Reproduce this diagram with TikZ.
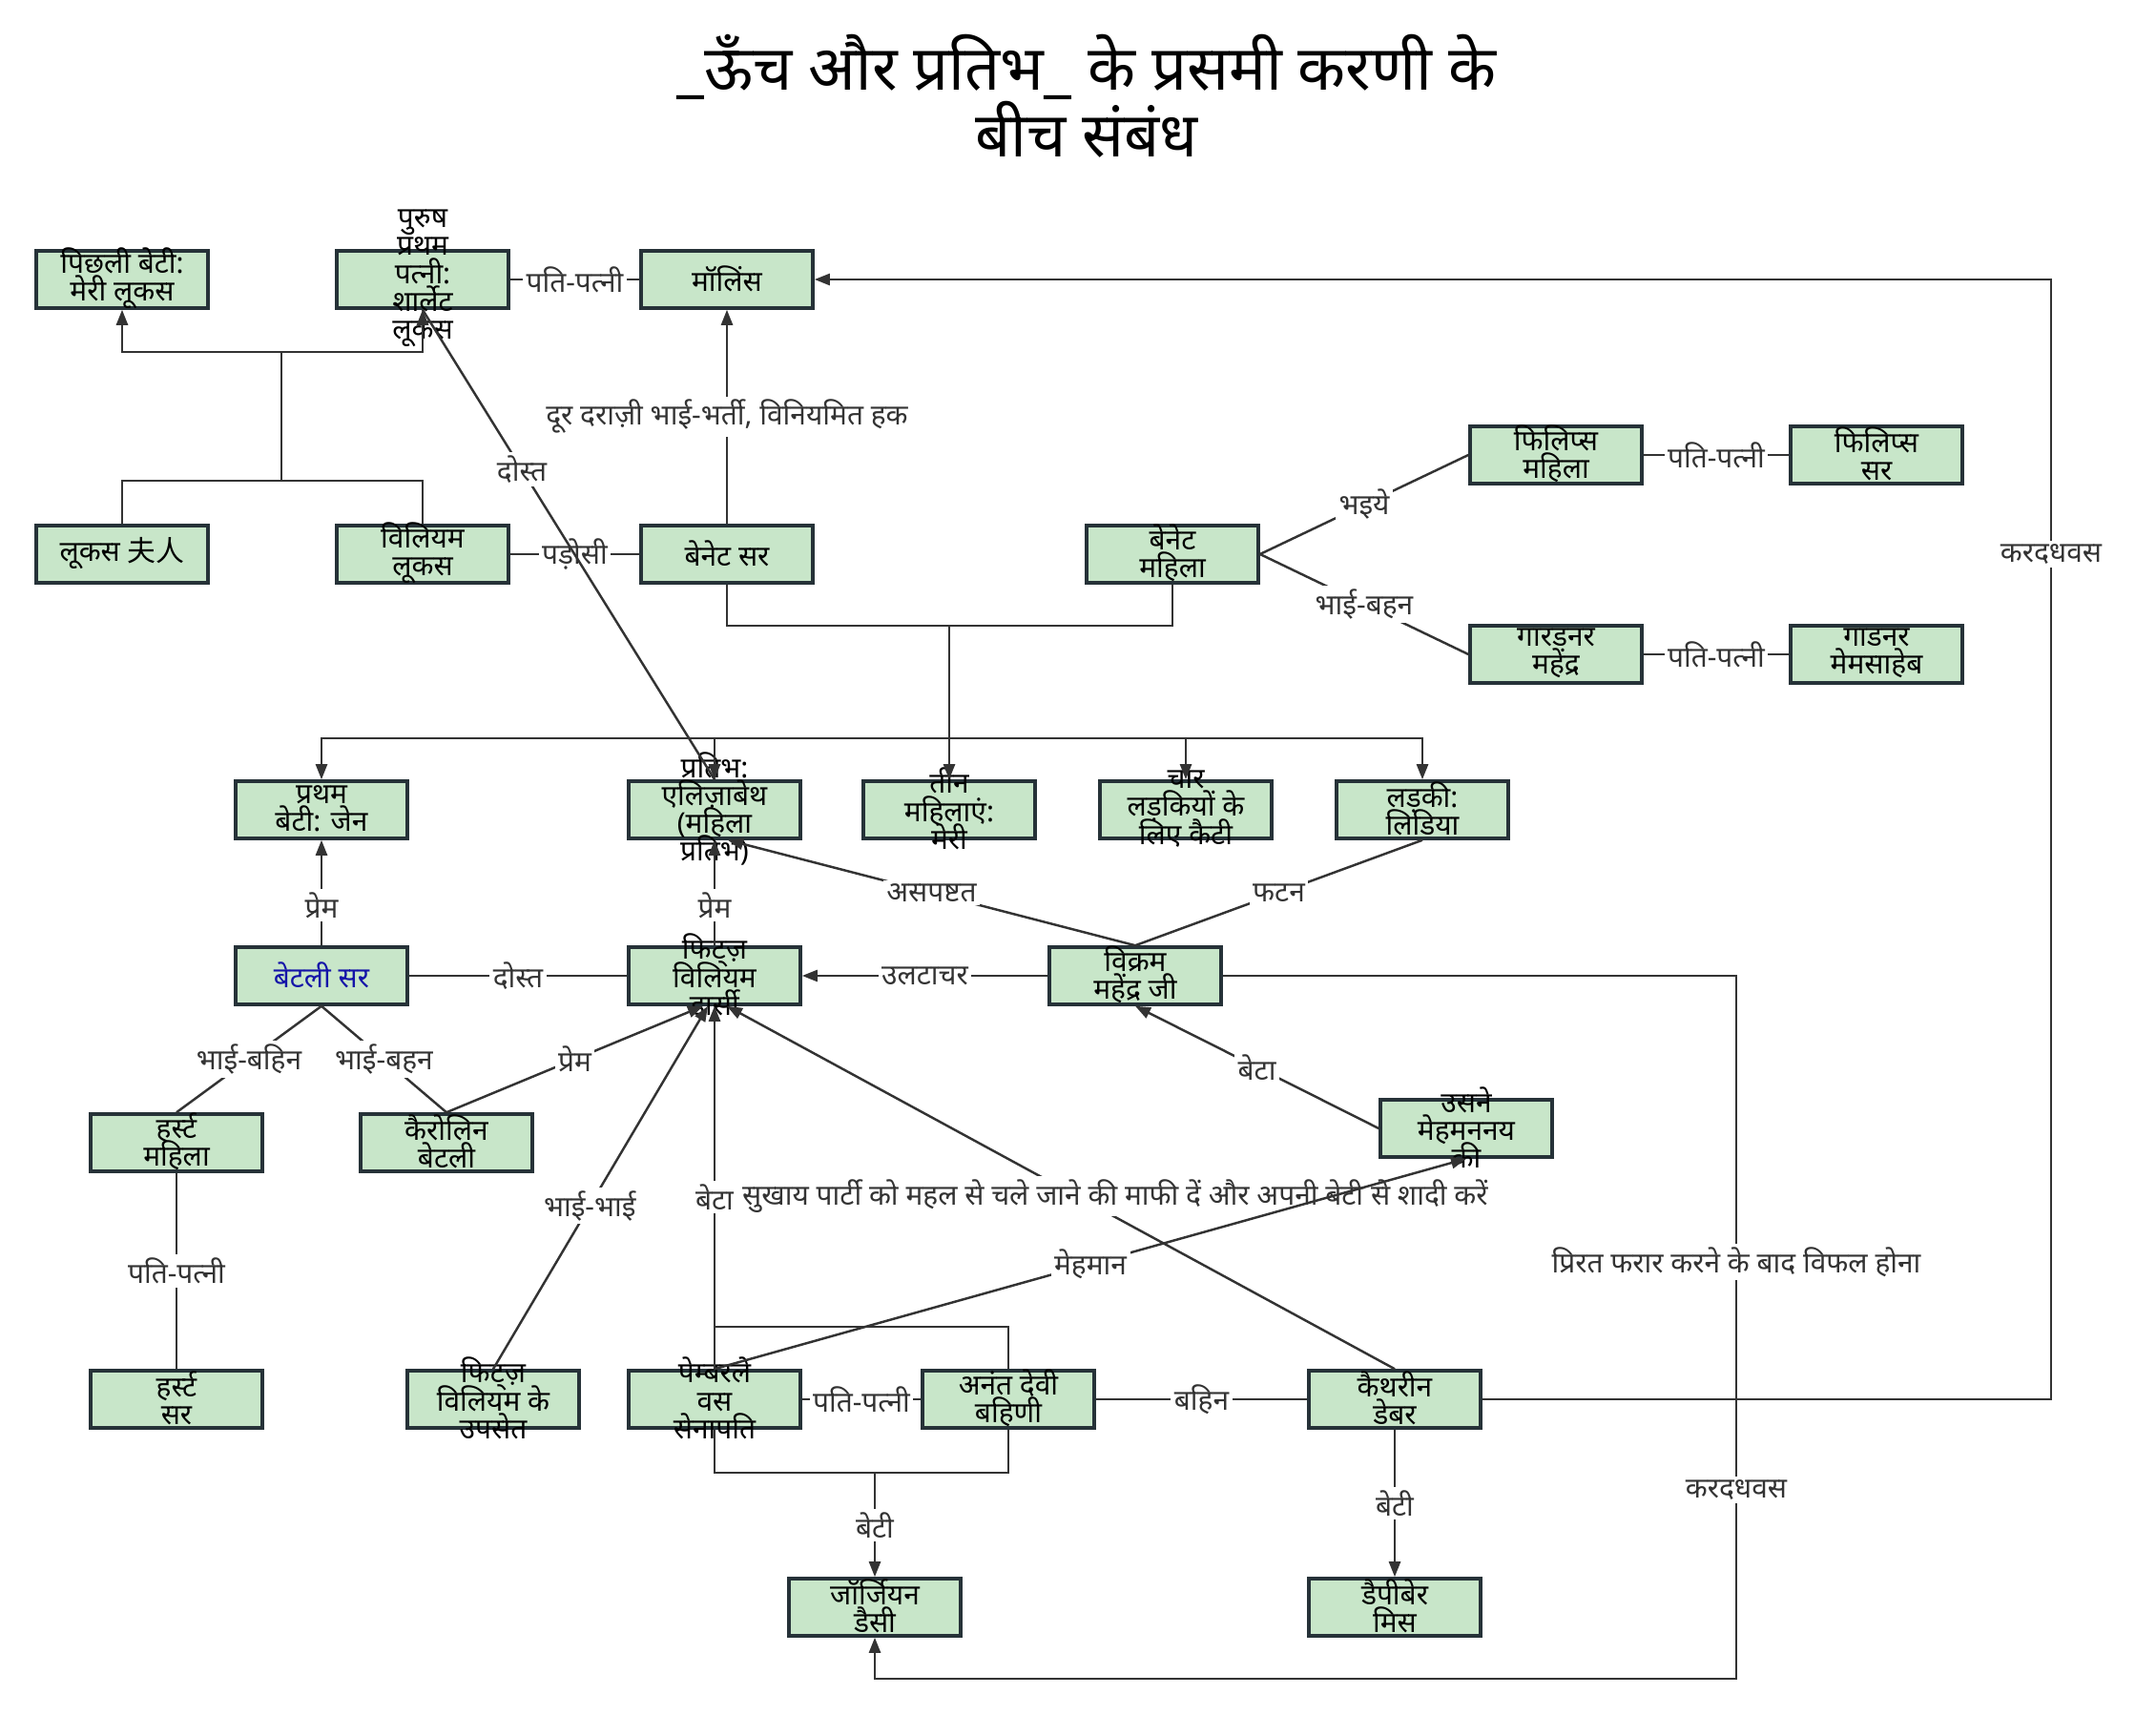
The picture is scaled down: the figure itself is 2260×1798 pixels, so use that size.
\documentclass[tikz,border=0pt]{standalone}
\usepackage{fontspec}
\setmainfont{Noto Sans}[Script=Devanagari]
\newfontfamily\cjk{Noto Sans CJK SC}
\usetikzlibrary{arrows.meta,calc}
\definecolor{Ink}{HTML}{333333}
\definecolor{BoxLine}{HTML}{263238}
\definecolor{BoxFill}{HTML}{C8E6C9}
\definecolor{BingleyBlue}{HTML}{1414A8}
\newcommand\tightlines{\lineskiplimit=-\maxdimen\relax}
% text of a box may run over its border, as in the original
\newcommand\boxtext[1]{\smash{\makebox[0pt]{\raisebox{-0.2em}{\parbox[c]{3cm}{\centering\tightlines #1}}}}}

\begin{document}
\begin{tikzpicture}[x=0.01cm,y=-0.01cm,>={Triangle[length=1.6mm,width=1.2mm]},
  box/.style={draw=BoxLine,fill=BoxFill,line width=1pt,minimum width=1.8cm,minimum height=0.6cm,inner sep=0pt,font=\fontsize{8.5}{8.3}\selectfont},
  lbl/.style={fill=white,inner sep=1pt,text=Ink,font=\fontsize{8.5}{9}\selectfont},
  link/.style={draw=Ink,line width=0.7pt}]
\useasboundingbox (0,0) rectangle (2260,1798);
\node[font=\bfseries\fontsize{18.5}{20}\selectfont\tightlines,align=center] (title) at (1139,101) {\_ऊँच और प्रतिभ\_ के प्रसमी करणी के\\बीच संबंध};

% boxes
\node[box] (mary) at (128,293) {\boxtext{पिछली बेटी:\\मेरी लूकस}};
\node[box] (charlotte) at (443,293) {\boxtext{पुरुष\\प्रथम\\पत्नी:\\शार्लेट\\लूकस}};
\node[box] (collins) at (762,293) {\boxtext{मॉलिंस}};
\node[box] (lucasLady) at (128,581) {\boxtext{लूकस {\cjk 夫人}}};
\node[box] (williamLucas) at (443,581) {\boxtext{विलियम\\लूकस}};
\node[box] (bennetSir) at (762,581) {\boxtext{बेनेट सर}};
\node[box] (bennetLady) at (1229,581) {\boxtext{बेनेट\\महिला}};
\node[box] (phillipsLady) at (1631,477) {\boxtext{फिलिप्स\\महिला}};
\node[box] (phillipsSir) at (1967,477) {\boxtext{फिलिप्स\\सर}};
\node[box] (gardinerSir) at (1631,686) {\boxtext{गारडनर\\महेंद्र}};
\node[box] (gardinerMem) at (1967,686) {\boxtext{गाडनर\\मेमसाहेब}};
\node[box] (jane) at (337,849) {\boxtext{प्रथम\\बेटी: जेन}};
\node[box] (elizabeth) at (749,849) {\boxtext{प्रतिभ:\\एलिज़ाबेथ\\(महिला\\प्रतिभ)}};
\node[box] (maryB) at (995,849) {\boxtext{तीन\\महिलाएं:\\मेरी}};
\node[box] (kitty) at (1243,849) {\boxtext{चार\\लड़कियों के\\लिए कैटी}};
\node[box] (lydia) at (1491,849) {\boxtext{लड़की:\\लिडिया}};
\node[box,text=BingleyBlue] (bingley) at (337,1023) {\boxtext{बेटली सर}};
\node[box] (darcy) at (749,1023) {\boxtext{फिट्ज़\\विलियम\\डार्सी}};
\node[box] (wickham) at (1190,1023) {\boxtext{विक्रम\\महेंद्र जी}};
\node[box] (hurstLady) at (185,1198) {\boxtext{हर्स्ट\\महिला}};
\node[box] (caroline) at (468,1198) {\boxtext{कैरोलिन\\बेटली}};
\node[box] (guest) at (1537,1183) {\boxtext{उसने\\मेहमननय\\की}};
\node[box] (hurstSir) at (185,1467) {\boxtext{हर्स्ट\\सर}};
\node[box] (fitzCol) at (517,1467) {\boxtext{फिट्ज़\\विलियम के\\उपसेत}};
\node[box] (pemberley) at (749,1467) {\boxtext{पेम्बरले\\वस\\सेनापति}};
\node[box] (anita) at (1057,1467) {\boxtext{अनंत देवी\\बहिणी}};
\node[box] (catherine) at (1462,1467) {\boxtext{कैथरीन\\डेबर}};
\node[box] (georgiana) at (917,1685) {\boxtext{जॉर्जियन\\डैसी}};
\node[box] (anne) at (1462,1685) {\boxtext{डैपीबेर\\मिस}};

% Lucas family
\coordinate (lucasPar) at (295,504);
\coordinate (lucasKid) at (295,369);
\draw[link] (lucasLady.north) |- (lucasPar) -| (williamLucas.north);
\draw[link] (lucasPar) -- (lucasKid);
\draw[link,->] (lucasKid) -| (mary.south);
\draw[link,->] (lucasKid) -| (charlotte.south);
\draw[link] (charlotte) -- node[lbl]{पति-पत्नी} (collins);
\draw[link,->] (bennetSir) -- node[lbl]{दूर दराज़ी भाई-भर्ती, विनियमित हक} (collins);
\draw[link] (williamLucas) -- node[lbl]{पड़ोसी} (bennetSir);
\draw[link] (charlotte.south) -- node[lbl,pos=0.34]{दोस्त} (elizabeth.north);

% Bennet family
\coordinate (bennetPar) at (995,656);
\coordinate (bennetKid) at (995,774);
\draw[link] (bennetSir.south) |- (bennetPar) -| (bennetLady.south);
\draw[link,->] (bennetPar) -- (maryB.north);
\foreach \kid in {jane,elizabeth,kitty,lydia}
  \draw[link,->] (bennetKid) -| (\kid.north);
\draw[link] (bennetLady.east) -- node[lbl]{भइये} (phillipsLady.west);
\draw[link] (bennetLady.east) -- node[lbl]{भाई-बहन} (gardinerSir.west);
\draw[link] (phillipsLady) -- node[lbl]{पति-पत्नी} (phillipsSir);
\draw[link] (gardinerSir) -- node[lbl]{पति-पत्नी} (gardinerMem);

% middle
\draw[link,->] (bingley) -- node[lbl,pos=0.38]{प्रेम} (jane);
\draw[link,->] (darcy) -- node[lbl,pos=0.38]{प्रेम} (elizabeth);
\draw[link] (bingley) -- node[lbl]{दोस्त} (darcy);
\draw[link,->] (wickham) -- node[lbl]{उलटाचर} (darcy);
\draw[link,->] (wickham.north) -- node[lbl]{असपष्टत} ([xshift=0.14cm]elizabeth.south);
\draw[link] (lydia.south) -- node[lbl]{फटन} (wickham.north);
\draw[link] (bingley.south) -- node[lbl]{भाई-बहिन} (hurstLady.north);
\draw[link] (bingley.south) -- node[lbl]{भाई-बहन} (caroline.north);
\draw[link,->] (caroline.north) -- node[lbl]{प्रेम} ([xshift=-0.12cm]darcy.south);
\draw[link] (hurstLady) -- node[lbl]{पति-पत्नी} (hurstSir);
\draw[link,->] (fitzCol.north) -- node[lbl,pos=0.45]{भाई-भाई} ([xshift=-0.07cm]darcy.south);

% Darcy's parents
\coordinate (darcyPar) at (749,1391);
\draw[link] (pemberley.north) -- (darcyPar) -| (anita.north);
\draw[link,->] (darcyPar) -- node[lbl,pos=0.405]{बेटा} (darcy.south);
\draw[link,->] (catherine.north) -- ([xshift=0.13cm]darcy.south);
\node[lbl,anchor=west] (demand) at (774,1254) {सुखाय पार्टी को महल से चले जाने की माफी दें और अपनी बेटी से शादी करें};
\draw[link,->] (pemberley.north) -- node[lbl]{मेहमान} (guest.south);
\draw[link,->] (guest.west) -- node[lbl]{बेटा} (wickham.south);

% bottom
\draw[link] (pemberley) -- node[lbl]{पति-पत्नी} (anita);
\draw[link] (anita) -- node[lbl]{बहिन} (catherine);
\coordinate (georgePar) at (917,1544);
\draw[link] (pemberley.south) |- (georgePar) -| (anita.south);
\draw[link,->] (georgePar) -- node[lbl]{बेटी} (georgiana.north);
\draw[link,->] (catherine) -- node[lbl]{बेटी} (anne);

% long routes
\coordinate (wickRight) at (1820,1023);
\coordinate (wickLow) at (1820,1760);
\draw[link,->] (wickham.east) -- (wickRight) -- node[lbl,pos=0.407]{प्रिरत फरार करने के बाद विफल होना} node[lbl,pos=0.731]{करदधवस} (wickLow) -| (georgiana.south);
\coordinate (cathRight) at (2150,1467);
\coordinate (cathTop) at (2150,293);
\draw[link,->] (catherine.east) -- (cathRight) -- node[lbl,pos=0.755]{करदधवस} (cathTop) -- (collins.east);
\end{tikzpicture}
\end{document}
